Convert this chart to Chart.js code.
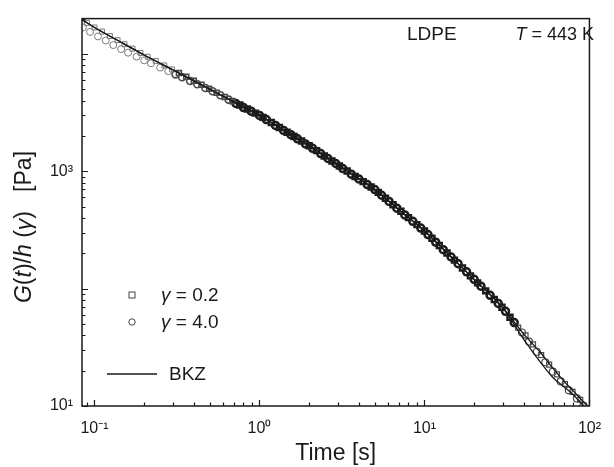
<!DOCTYPE html>
<html lang="en">
<head>
    <meta charset="UTF-8">
    <title>LDPE relaxation modulus</title>
    <script src="https://cdn.jsdelivr.net/npm/chart.js"></script>
    <style>
        body { margin: 0; background: #fff; }
        #wrap { width: 614px; height: 467px; position: relative; }
    </style>
</head>
<body>
    <div id="wrap">
        <canvas id="relaxChart"></canvas>
    </div>

    <script>
        // gamma = 4.0 (circles)
        const time40 = [0.085, 0.094, 0.105, 0.117, 0.13, 0.145, 0.16, 0.18, 0.2, 0.22, 0.25, 0.28, 0.31, 0.34, 0.38, 0.42, 0.47, 0.52, 0.58, 0.65, 0.72, 0.8, 0.89, 1.0, 1.1, 1.25, 1.4, 1.55, 1.7, 1.9, 2.1, 2.35, 2.6, 2.9, 3.2, 3.6, 4.0, 4.5, 5.0, 5.5, 6.1, 6.8, 7.6, 8.5, 9.5, 10.5, 11.7, 13, 14.5, 16, 18, 20, 22, 25, 28, 31, 35, 39, 43, 48, 54, 60, 67, 75, 84, 92];
        const g40 = [16800, 15400, 14100, 13000, 11900, 11000, 10250, 9480, 8820, 8320, 7650, 7130, 6700, 6320, 5880, 5520, 5130, 4810, 4450, 4080, 3780, 3490, 3250, 2990, 2760, 2460, 2230, 2050, 1890, 1710, 1570, 1415, 1285, 1165, 1055, 945, 860, 770, 698, 625, 553, 485, 425, 375, 328, 289, 249, 215, 186, 163, 139, 120, 105, 87.7, 74.8, 64.1, 51.4, 42.3, 35.4, 29.0, 23.6, 19.6, 16.2, 13.6, 11.6, 10.1];

        // gamma = 0.2 (squares)
        const time02 = [0.09, 0.1, 0.111, 0.124, 0.138, 0.152, 0.17, 0.19, 0.21, 0.235, 0.265, 0.295, 0.325, 0.36, 0.4, 0.445, 0.495, 0.55, 0.615, 0.685, 0.76, 0.845, 0.945, 1.05, 1.18, 1.32, 1.47, 1.62, 1.8, 2.0, 2.22, 2.47, 2.75, 3.05, 3.4, 3.8, 4.25, 4.75, 5.25, 5.8, 6.45, 7.2, 8.0, 9.0, 10, 11.1, 12.3, 13.7, 15.2, 17, 19, 21, 23.5, 26.5, 29.5, 33, 37, 41, 45.5, 51, 57, 63.5, 71, 79, 88];
        const g02 = [18400, 16800, 15500, 14200, 13100, 12100, 11100, 10200, 9460, 8710, 7980, 7380, 6870, 6380, 5900, 5460, 5040, 4670, 4300, 3960, 3670, 3400, 3130, 2880, 2600, 2360, 2150, 1980, 1810, 1650, 1500, 1350, 1225, 1110, 1005, 904, 816, 734, 661, 589, 518, 456, 403, 351, 310, 269, 233, 201, 175, 150, 128.5, 112, 95.7, 80.9, 69.5, 57.0, 46.5, 40.0, 33.5, 27.2, 22.5, 18.6, 15.4, 13.2, 11.3];

        // BKZ model curves
        const bkzTime = [0.084, 0.1, 0.15, 0.2, 0.3, 0.5, 0.7, 1, 1.5, 2, 3, 5, 7, 10, 15, 20, 30, 40, 50, 60, 70, 80, 90, 100];
        const bkzLow = [19600, 16800, 12250, 9800, 7300, 5000, 3900, 3000, 2110, 1650, 1130, 700, 471, 310, 178, 120, 68, 37, 24, 17.5, 14.6, 12.4, 10.4, 9.0];
        const bkzHigh = [19600, 16800, 12250, 9800, 7300, 5000, 3900, 3000, 2110, 1650, 1130, 700, 471, 310, 178, 120, 68, 41, 29, 21, 16.3, 13.4, 11.2, 9.6];

        const xTicks = [0.1, 1, 10, 100];
        const yTicks = [10, 1000];

        const FONT = "'Liberation Sans', Arial, sans-serif";
        const INK = '#1a1a1a';
        const sup = { '-': '⁻', '0': '⁰', '1': '¹', '2': '²', '3': '³', '4': '⁴' };
        function powLabel(v) {
            const e = String(Math.round(Math.log10(v)));
            return '10' + e.split('').map(c => sup[c]).join('');
        }
        const pts = (xs, ys) => xs.map((x, i) => ({ x: x, y: ys[i] }));

        // early and late markers are sparse and grey, the middle ones pile up into a dark band
        function markColor(c) {
            const t = c.raw ? c.raw.x : 1;
            if (t < 0.3) return '#7a7a7a';
            if (t < 0.7) return '#4a4a4a';
            if (t > 35) return '#4a4a4a';
            return '#1c1c1c';
        }
        function markWidth(c) {
            const t = c.raw ? c.raw.x : 1;
            if (t < 0.3) return 1;
            if (t < 0.7) return 1.6;
            if (t > 35) return 1.2;
            return 2.5;
        }

        // write a string made of [text, italic] pieces starting at x
        function richText(ctx, parts, x, y, size) {
            parts.forEach(([txt, it]) => {
                ctx.font = (it ? 'italic ' : '') + size + 'px ' + FONT;
                ctx.fillText(txt, x, y);
                x += ctx.measureText(txt).width;
            });
            return x;
        }
        function richWidth(ctx, parts, size) {
            let w = 0;
            parts.forEach(([txt, it]) => {
                ctx.font = (it ? 'italic ' : '') + size + 'px ' + FONT;
                w += ctx.measureText(txt).width;
            });
            return w;
        }

        const framePlugin = {
            id: 'frame',
            afterDraw(chart) {
                const ctx = chart.ctx;
                const a = chart.chartArea;
                const xs = chart.scales.x, ys = chart.scales.y;
                ctx.save();
                ctx.strokeStyle = INK;
                ctx.lineWidth = 1.5;
                ctx.strokeRect(a.left, a.top, a.right - a.left, a.bottom - a.top);

                // inward log ticks on bottom and left axes
                ctx.lineWidth = 1.2;
                ctx.beginPath();
                for (let k = -2; k <= 4; k++) {
                    for (let m = 1; m <= 9; m++) {
                        const v = m * Math.pow(10, k);
                        const len = m === 1 ? 6 : 3.5;
                        if (v >= xs.min && v <= xs.max) {
                            const px = Math.round(xs.getPixelForValue(v)) + 0.5;
                            ctx.moveTo(px, a.bottom);
                            ctx.lineTo(px, a.bottom - len);
                        }
                        if (v >= ys.min && v <= ys.max) {
                            const py = Math.round(ys.getPixelForValue(v)) + 0.5;
                            ctx.moveTo(a.left, py);
                            ctx.lineTo(a.left + len, py);
                        }
                    }
                }
                ctx.stroke();

                ctx.fillStyle = INK;
                ctx.textBaseline = 'middle';

                // y axis title
                const yTitle = [['G', true], ['(', false], ['t', true], [')/', false], ['h', true], [' (', false], ['γ', true], [')   [Pa]', false]];
                ctx.save();
                ctx.translate(25, 227);
                ctx.rotate(-Math.PI / 2);
                const w = richWidth(ctx, yTitle, 23);
                richText(ctx, yTitle, -w / 2, 0, 23);
                ctx.restore();

                // header texts
                ctx.font = '19px ' + FONT;
                ctx.fillText('LDPE', 407, 35);
                const tParts = [['T', true], [' = 443 K', false]];
                richText(ctx, tParts, 594 - richWidth(ctx, tParts, 18), 35, 18);

                // legend
                ctx.strokeStyle = '#444';
                ctx.lineWidth = 1;
                ctx.strokeRect(129, 292, 6, 6);
                ctx.beginPath();
                ctx.arc(132, 322, 3.2, 0, Math.PI * 2);
                ctx.stroke();
                richText(ctx, [['γ', true], [' = 0.2', false]], 161, 296, 19);
                richText(ctx, [['γ', true], [' = 4.0', false]], 161, 323, 19);
                ctx.strokeStyle = INK;
                ctx.lineWidth = 1.3;
                ctx.beginPath();
                ctx.moveTo(107, 374);
                ctx.lineTo(157, 374);
                ctx.stroke();
                ctx.font = '19px ' + FONT;
                ctx.fillText('BKZ', 169, 375);
                ctx.restore();
            }
        };

        const ctx = document.getElementById('relaxChart').getContext('2d');
        const relaxChart = new Chart(ctx, {
            type: 'scatter',
            data: {
                datasets: [
                    {
                        label: 'BKZ',
                        data: pts(bkzTime, bkzLow),
                        showLine: true,
                        borderColor: INK,
                        borderWidth: 1.3,
                        pointRadius: 0,
                        cubicInterpolationMode: 'monotone',
                        order: 0
                    },
                    {
                        label: 'BKZ ',
                        data: pts(bkzTime, bkzHigh),
                        showLine: true,
                        borderColor: INK,
                        borderWidth: 1.3,
                        pointRadius: 0,
                        cubicInterpolationMode: 'monotone',
                        order: 1
                    },
                    {
                        label: 'γ = 0.2',
                        data: pts(time02, g02),
                        pointStyle: 'rect',
                        pointRadius: 3.5,
                        borderColor: markColor,
                        borderWidth: markWidth,
                        backgroundColor: 'rgba(0,0,0,0)',
                        order: 2
                    },
                    {
                        label: 'γ = 4.0',
                        data: pts(time40, g40),
                        pointStyle: 'circle',
                        pointRadius: 3.5,
                        borderColor: markColor,
                        borderWidth: markWidth,
                        backgroundColor: 'rgba(0,0,0,0)',
                        order: 3
                    }
                ]
            },
            options: {
                responsive: true,
                maintainAspectRatio: false,
                animation: false,
                layout: { padding: { top: 13, right: 14, left: 0, bottom: 0 } },
                scales: {
                    x: {
                        type: 'logarithmic',
                        min: 0.084,
                        max: 100,
                        grid: { display: false, drawTicks: false },
                        border: { display: false },
                        afterBuildTicks: s => { s.ticks = xTicks.map(v => ({ value: v })); },
                        afterFit: s => { s.height = 61; },
                        ticks: {
                            callback: v => powLabel(v),
                            color: INK,
                            padding: 13,
                            maxRotation: 0,
                            font: { family: FONT, size: 16 }
                        },
                        title: {
                            display: true,
                            text: 'Time [s]',
                            color: INK,
                            padding: { top: 0, bottom: 0 },
                            font: { family: FONT, size: 23 }
                        }
                    },
                    y: {
                        type: 'logarithmic',
                        min: 10,
                        max: 20000,
                        grid: { display: false, drawTicks: false },
                        border: { display: false },
                        afterBuildTicks: s => { s.ticks = yTicks.map(v => ({ value: v })); },
                        afterFit: s => { s.width = 82; },
                        ticks: {
                            callback: v => powLabel(v),
                            color: INK,
                            padding: 9,
                            font: { family: FONT, size: 16 }
                        }
                    }
                },
                plugins: {
                    legend: { display: false },
                    tooltip: { enabled: false }
                }
            },
            plugins: [framePlugin]
        });
    </script>
</body>
</html>
